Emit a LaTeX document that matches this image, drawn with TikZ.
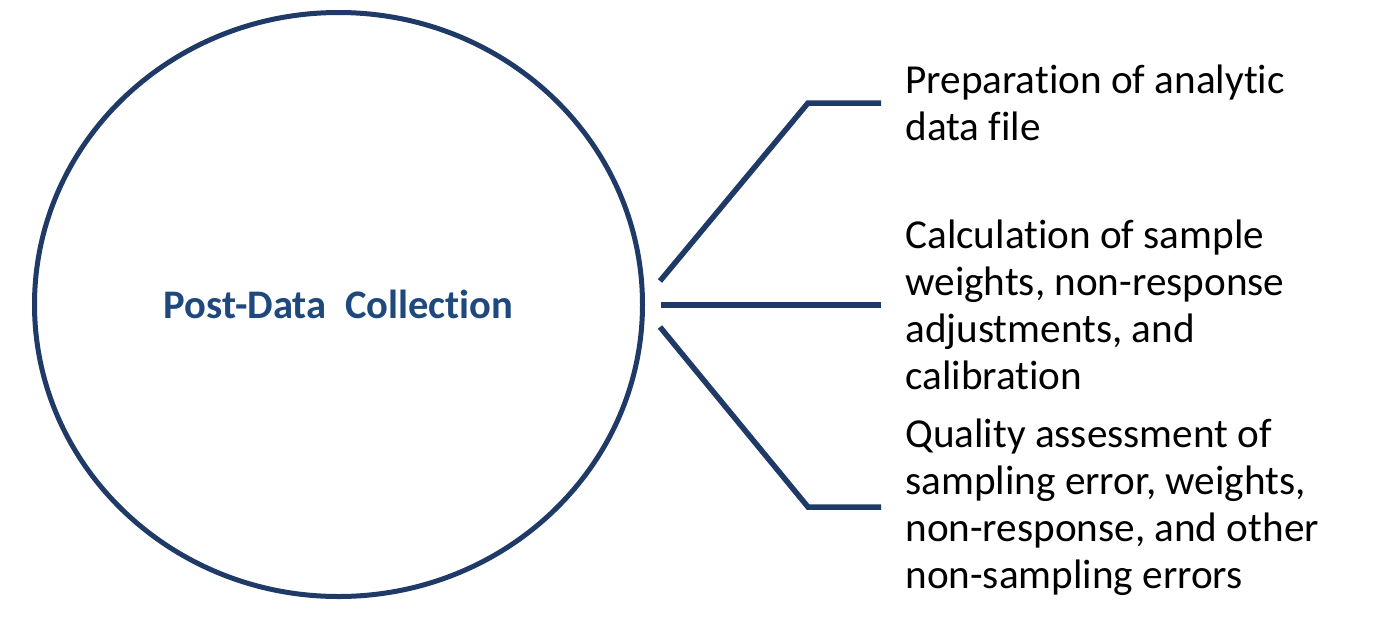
\documentclass[tikz,border=0pt]{standalone}
\usepackage{fontspec}
\setmainfont{Carlito}[Ligatures={NoCommon}]
\usetikzlibrary{shapes.geometric, positioning}
\definecolor{hubnavy}{RGB}{31,58,102}
\definecolor{titleblue}{RGB}{31,72,124}
\tikzset{
  hubring/.style={ellipse,draw=hubnavy,line width=2.5pt,minimum width=304pt,minimum height=292pt,inner sep=0pt,
    font=\fontsize{20.3}{23.5}\selectfont\bfseries,text=titleblue},
  itemtext/.style={anchor=west,inner sep=0pt,align=left,font=\fontsize{20.6}{23.5}\selectfont,text=black},
  branch/.style={draw=hubnavy,line width=2.75pt}
}
\begin{document}
\begin{tikzpicture}[x=0.5pt,y=-0.5pt]
  \useasboundingbox (0,0) rectangle (1388,628);
  \node[hubring] (post) at (338.5,304.5) {Post-Data\ \ Collection};

  \coordinate (s1) at (660,281);
  \coordinate (b1) at (808,103);
  \coordinate (e1) at (881,103);
  \coordinate (s2) at (661,305);
  \coordinate (e2) at (881,305);
  \coordinate (s3) at (660,327);
  \coordinate (b3) at (808,507);
  \coordinate (e3) at (881,507);

  \node[itemtext,right=12pt of e1] (prep) {Preparation of analytic\\data file};
  \node[itemtext,right=12pt of e2] (calc) {Calculation of sample\\weights, non-response\\adjustments, and\\calibration};
  \node[itemtext,right=12pt of e3] (qual) {Quality assessment of\\sampling error, weights,\\non-response, and other\\non-sampling errors};

  \draw[branch] (s1) -- (b1) -- (e1);
  \draw[branch] (s2) -- (e2);
  \draw[branch] (s3) -- (b3) -- (e3);
\end{tikzpicture}
\end{document}
